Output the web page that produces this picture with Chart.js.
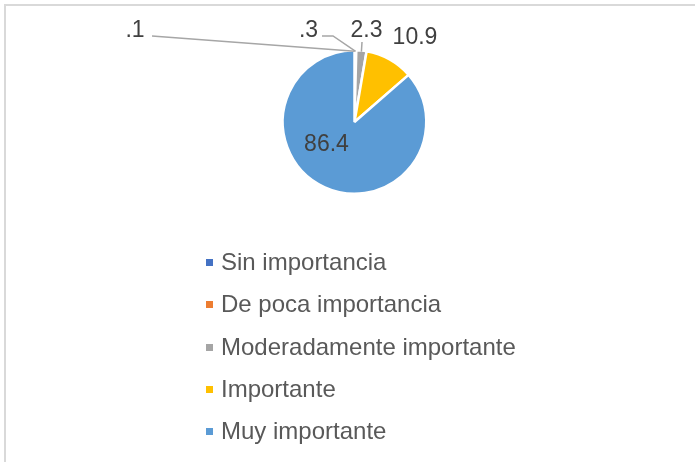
<!DOCTYPE html>
<html>
<head>
<meta charset="utf-8">
<script src="https://cdn.jsdelivr.net/npm/chart.js@4/dist/chart.umd.min.js"></script>
<style>
  body { margin: 0; background: #fff; }
  #wrap { position: relative; width: 695px; height: 462px; overflow: hidden; }
  #frame {
    position: absolute; left: 4px; top: 4px; width: 720px; height: 480px;
    border-left: 2px solid #d9d9d9; border-top: 2px solid #d9d9d9;
  }
  canvas { position: absolute; left: 0; top: 0; }
  #legend { position: absolute; left: 0; top: 0; font-family: "Liberation Sans", Arial, sans-serif; }
  .item { position: absolute; left: 206px; height: 30px; line-height: 30px; font-size: 24px; color: #595959; white-space: nowrap; }
  .item span.box { position: absolute; left: 0; top: 12px; width: 7px; height: 7px; }
  .item span.txt { position: absolute; left: 15px; top: 0; }
</style>
</head>
<body>
<div id="wrap">
  <div id="frame"></div>
  <canvas id="pie" width="695" height="462"></canvas>
  <div id="legend"></div>
</div>
<script>
// Data
const categories = ["Sin importancia", "De poca importancia", "Moderadamente importante", "Importante", "Muy importante"];
const values = [0.1, 0.3, 2.3, 10.9, 86.4];
const colors = ["#4472C4", "#ED7D31", "#A5A5A5", "#FFC000", "#5B9BD5"];

// Excel style number text: ".1" instead of "0.1"
const fmt = (v) => String(v).replace(/^0\./, ".");

// where the value labels sit, relative to the pie centre (layout only)
const labelLayout = [
  { dx: -219.5, dy: -91, leader: [[-202.5, -86]] },
  { dx: -46, dy: -91, leader: [[-32.5, -86], [-21.5, -86]] },
  { dx: 12, dy: -91, leader: [[7.5, -80]] },
  { dx: 60.5, dy: -84.5 },
  { dx: -28, dy: 23 },
];

const valueLabels = {
  id: "valueLabels",
  afterDatasetsDraw(chart) {
    const ctx = chart.ctx;
    const meta = chart.getDatasetMeta(0);
    ctx.save();
    meta.data.forEach((arc, i) => {
      const p = arc.getProps(["x", "y", "startAngle", "endAngle", "outerRadius"], true);
      const lay = labelLayout[i];
      if (lay.leader) {
        const mid = (p.startAngle + p.endAngle) / 2;
        ctx.strokeStyle = "#a6a6a6";
        ctx.lineWidth = 1.5;
        ctx.beginPath();
        lay.leader.forEach((pt, k) => {
          if (k === 0) ctx.moveTo(p.x + pt[0], p.y + pt[1]);
          else ctx.lineTo(p.x + pt[0], p.y + pt[1]);
        });
        ctx.lineTo(p.x + Math.cos(mid) * (p.outerRadius - 1), p.y + Math.sin(mid) * (p.outerRadius - 1));
        ctx.stroke();
      }
      ctx.fillStyle = "#404040";
      ctx.font = '23px "Liberation Sans", Arial, sans-serif';
      ctx.textAlign = "center";
      ctx.textBaseline = "middle";
      ctx.fillText(fmt(values[i]), p.x + lay.dx, p.y + lay.dy);
    });
    ctx.restore();
  },
};

new Chart(document.getElementById("pie"), {
  type: "pie",
  data: {
    labels: categories,
    datasets: [
      {
        data: values,
        backgroundColor: colors,
        borderColor: "#ffffff",
        borderWidth: 2.5,
      },
    ],
  },
  options: {
    responsive: false,
    animation: false,
    devicePixelRatio: 1,
    layout: { padding: { top: 49, bottom: 267, left: 14, right: 0 } },
    plugins: {
      legend: { display: false },
      tooltip: { enabled: false },
    },
  },
  plugins: [valueLabels],
});

// legend, one item per line like the original
const legend = document.getElementById("legend");
const rowTop = 247;
const rowStep = 42.3;
categories.forEach((name, i) => {
  const item = document.createElement("div");
  item.className = "item";
  item.style.top = rowTop + i * rowStep + "px";
  item.innerHTML = `<span class="box" style="background:${colors[i]}"></span><span class="txt">${name}</span>`;
  legend.appendChild(item);
});
</script>
</body>
</html>
